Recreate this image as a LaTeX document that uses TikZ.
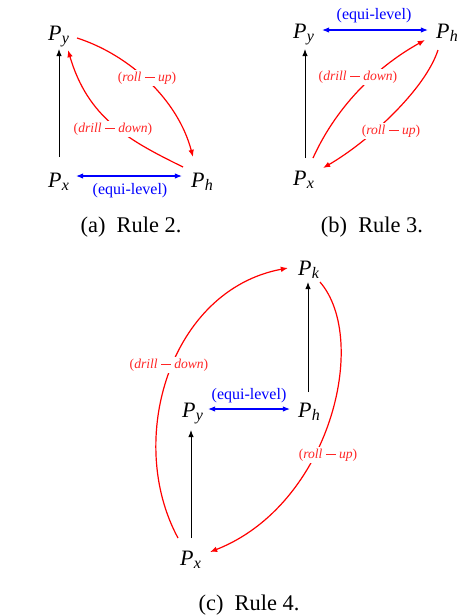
\documentclass[tikz,border=0pt]{standalone}
\usepackage{fontspec}
\setmainfont{Liberation Serif}
\usetikzlibrary{arrows.meta}
\newcommand{\Pn}[1]{\fontsize{11}{12}\selectfont\textit{P}\kern0.2pt\raisebox{-1.7pt}{\fontsize{8}{9}\selectfont\textit{#1}}}
\newcommand{\opl}[2]{\fontsize{6.8}{8}\selectfont(\textit{#1}\hspace{0.25em}\rule[0.24em]{0.72em}{0.055em}\hspace{0.25em}\textit{#2})}
\begin{document}
\begin{tikzpicture}[x=0.5pt,y=-0.5pt,
  pnode/.style={anchor=base west, inner sep=0pt, outer sep=0pt},
  tipp/.tip={Latex[length=3.6pt,width=2.8pt]},
  hier/.style={draw=black, line width=0.5pt, -tipp},
  equi/.style={draw=blue, line width=0.6pt, tipp-tipp},
  olap/.style={draw=red, line width=0.6pt, -tipp},
  olab/.style={text=red!85, inner sep=0.8pt, fill=white},
  elab/.style={text=blue, inner sep=0.5pt, font=\fontsize{8}{9}\selectfont},
  capt/.style={anchor=base, inner sep=0pt, font=\fontsize{11.2}{13}\selectfont}]
\useasboundingbox (0,0) rectangle (456,616);

% ---------- (a) Rule 2 ----------
\node[pnode] (ay) at (48,40)  {\Pn{y}};
\node[pnode] (ax) at (48,187) {\Pn{x}};
\node[pnode] (ah) at (191,187) {\Pn{h}};
\draw[hier] ([shift={(11,-30)}]ax.base west) -- ([shift={(11,9)}]ay.base west);
\draw[equi] ([shift={(28,-11)}]ax.base west) -- ([shift={(-9,-11)}]ah.base west);
\draw[olap] ([shift={(29,-2)}]ay.base west) .. controls (130,55) and (178,100) .. ([shift={(2,-30)}]ah.base west);
\draw[olap] ([shift={(-8,-20)}]ah.base west) .. controls (128,140) and (88,118) .. ([shift={(20,10)}]ay.base west);
\node[olab] (arl) at (147,78) {\opl{roll}{up}};
\node[olab] (adl) at (113,129) {\opl{drill}{down}};
\node[elab] (ael) at (130,191) {(equi-level)};
\node[capt] (acap) at (131,232) {(a)\hspace{0.5em}Rule 2.};

% ---------- (b) Rule 3 ----------
\node[pnode] (by) at (293,38)  {\Pn{y}};
\node[pnode] (bh) at (436,38)  {\Pn{h}};
\node[pnode] (bx) at (293,185) {\Pn{x}};
\draw[hier] ([shift={(12,-27)}]bx.base west) -- ([shift={(12,11)}]by.base west);
\draw[equi] ([shift={(29,-8)}]by.base west) -- ([shift={(-8,-8)}]bh.base west);
\draw[olap] ([shift={(20,-27)}]bx.base west) .. controls (338,103) and (380,65) .. ([shift={(-11,2)}]bh.base west);
\draw[olap] ([shift={(2,12)}]bh.base west) .. controls (425,90) and (368,142) .. ([shift={(30,-17)}]bx.base west);
\node[olab] (bdl) at (358,77) {\opl{drill}{down}};
\node[olab] (brl) at (391,131) {\opl{roll}{up}};
\node[elab] (bel) at (374,16) {(equi-level)};
\node[capt] (bcap) at (372,232) {(b)\hspace{0.5em}Rule 3.};

% ---------- (c) Rule 4 ----------
\node[pnode] (ck) at (298,275) {\Pn{k}};
\node[pnode] (cy) at (182,417) {\Pn{y}};
\node[pnode] (ch) at (298,417) {\Pn{h}};
\node[pnode] (cx) at (180,565) {\Pn{x}};
\draw[hier] ([shift={(10,-25)}]ch.base west) -- ([shift={(10,7)}]ck.base west);
\draw[hier] ([shift={(11,-27)}]cx.base west) -- ([shift={(9,13)}]cy.base west);
\draw[equi] ([shift={(26,-8)}]cy.base west) -- ([shift={(-8,-8)}]ch.base west);
\draw[olap] ([shift={(-2,-27)}]cx.base west) .. controls (125,440) and (170,290) .. ([shift={(-10,-7)}]ck.base west);
\draw[olap] ([shift={(22,7)}]ck.base west) .. controls (370,340) and (330,505) .. ([shift={(30,-13)}]cx.base west);
\node[olab] (cdl) at (169,365) {\opl{drill}{down}};
\node[olab] (crl) at (328,455) {\opl{roll}{up}};
\node[elab] (cel) at (249,396) {(equi-level)};
\node[capt] (ccap) at (249,610) {(c)\hspace{0.5em}Rule 4.};
\end{tikzpicture}
\end{document}
